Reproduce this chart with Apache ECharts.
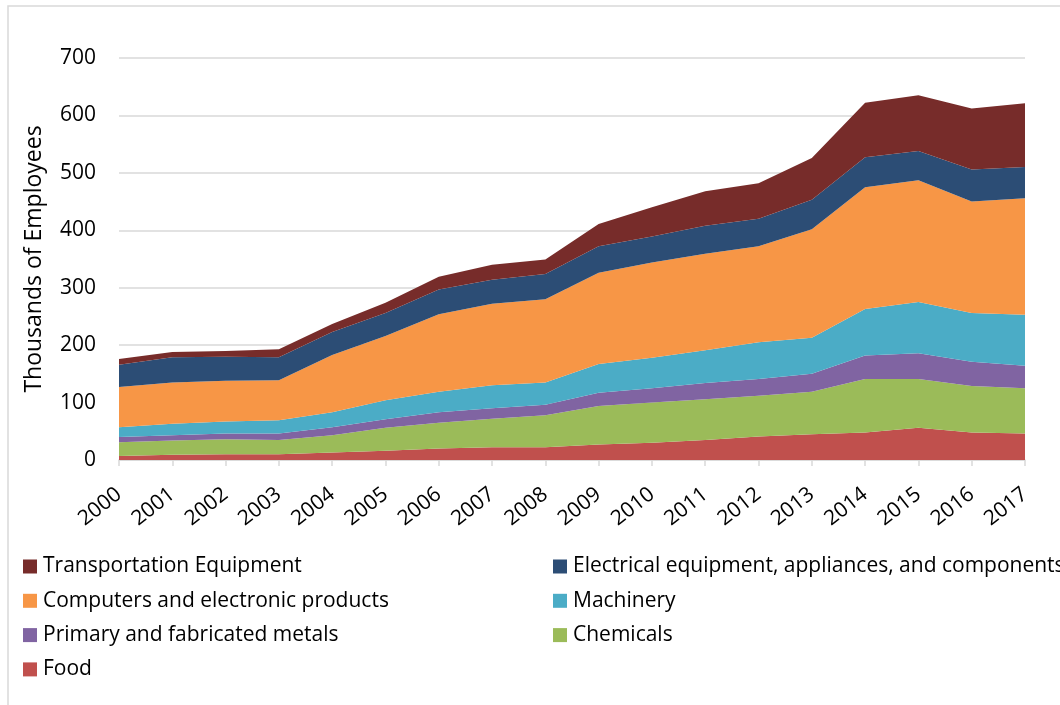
<!DOCTYPE html>
<html>
<head>
<meta charset="utf-8">
<title>Employees by industry</title>
<script src="https://cdn.jsdelivr.net/npm/echarts@6/dist/echarts.min.js"></script>
<style>
  html, body { margin: 0; padding: 0; background: #fff; }
  #chart { width: 1060px; height: 705px; }
</style>
</head>
<body>
<div id="chart"></div>
<script>
// years on the x axis
var years = ["2000", "2001", "2002", "2003", "2004", "2005", "2006", "2007", "2008",
  "2009", "2010", "2011", "2012", "2013", "2014", "2015", "2016", "2017"];

// thousands of employees per industry (stacked, bottom to top)
var food = [7, 9, 10, 10, 13, 16, 20, 22, 22, 27, 30, 35, 41, 45, 48, 56, 48, 46];
var chemicals = [24, 25, 26, 25, 30, 40, 45, 50, 56, 67, 70, 71, 71, 74, 93, 85, 81, 79];
var metals = [9, 9, 10, 11, 14, 15, 18, 18, 18, 23, 25, 28, 29, 31, 41, 45, 42, 39];
var machinery = [17, 20, 21, 23, 26, 33, 36, 40, 39, 50, 53, 57, 64, 63, 81, 89, 85, 89];
var computers = [70, 72, 71, 70, 100, 112, 135, 142, 145, 159, 166, 168, 167, 189, 212, 212, 194, 203];
var electrical = [39, 44, 42, 40, 40, 40, 43, 42, 44, 46, 45, 49, 48, 51, 52, 51, 56, 54];
var transport = [10, 9, 10, 14, 14, 18, 22, 26, 25, 39, 51, 60, 62, 73, 95, 97, 106, 111];

var yTicks = [0, 100, 200, 300, 400, 500, 600, 700];

var chart = echarts.init(document.getElementById("chart"));

function area(name, data, color) {
  return {
    name: name,
    type: "line",
    stack: "total",
    data: data,
    symbol: "none",
    lineStyle: { width: 0 },
    areaStyle: { color: color, opacity: 1 },
    itemStyle: { color: color }
  };
}

var font = "'Open Sans', 'Noto Sans', sans-serif";

var legendText = { fontFamily: font, fontSize: 21, lineHeight: 21, color: "#000", padding: [0, 0, 0, 1] };

var option = {
  animation: false,
  backgroundColor: "#fff",
  graphic: [
    {
      type: "rect",
      shape: { x: 8, y: 6, width: 1200, height: 800 },
      style: { fill: "none", stroke: "#d9d9d9", lineWidth: 1.5 },
      silent: true
    }
  ],
  grid: { left: 119, right: 35, top: 58, bottom: 245 },
  legend: [
    {
      orient: "vertical",
      left: 23,
      top: 556,
      padding: 0,
      itemWidth: 14,
      itemHeight: 14,
      itemGap: 13.3,
      icon: "rect",
      textStyle: legendText,
      data: ["Transportation Equipment", "Computers and electronic products",
        "Primary and fabricated metals", "Food"]
    },
    {
      orient: "vertical",
      left: 553,
      top: 556,
      padding: 0,
      itemWidth: 14,
      itemHeight: 14,
      itemGap: 13.3,
      icon: "rect",
      textStyle: legendText,
      data: ["Electrical equipment, appliances, and components", "Machinery", "Chemicals"]
    }
  ],
  xAxis: {
    type: "category",
    data: years,
    boundaryGap: false,
    axisLine: { lineStyle: { color: "#d9d9d9", width: 1.5 } },
    axisTick: { show: true, length: 6, lineStyle: { color: "#d9d9d9", width: 1.5 } },
    axisLabel: {
      rotate: 38,
      margin: 32,
      color: "#000",
      fontFamily: font,
      fontSize: 21,
      interval: 0
    }
  },
  yAxis: {
    type: "value",
    min: yTicks[0],
    max: yTicks[yTicks.length - 1],
    interval: 100,
    name: "Thousands of Employees",
    nameLocation: "middle",
    nameGap: 73,
    nameTextStyle: { fontFamily: font, fontSize: 23, color: "#000" },
    axisLine: { show: false },
    axisTick: { show: false },
    axisLabel: { color: "#000", fontFamily: font, fontSize: 21, margin: 23 },
    splitLine: { lineStyle: { color: "#d9d9d9", width: 1.5 } }
  },
  series: [
    area("Food", food, "#C0504D"),
    area("Chemicals", chemicals, "#9BBB59"),
    area("Primary and fabricated metals", metals, "#8064A2"),
    area("Machinery", machinery, "#4BACC6"),
    area("Computers and electronic products", computers, "#F79646"),
    area("Electrical equipment, appliances, and components", electrical, "#2C4D75"),
    area("Transportation Equipment", transport, "#772C2A")
  ]
};

chart.setOption(option);
</script>
</body>
</html>
